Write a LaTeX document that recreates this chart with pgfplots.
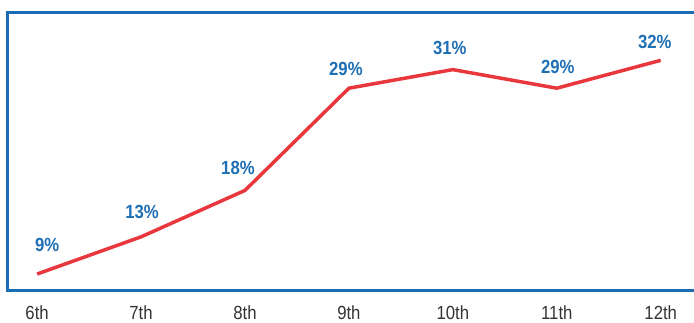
\documentclass[border=0pt]{standalone}
\usepackage{fontspec}
\setmainfont{Liberation Sans}[FakeStretch=0.88]
\usepackage{pgfplots}
\usepackage{pgfplotstable}
\pgfplotsset{compat=1.18}
\definecolor{frameblue}{HTML}{1A6DB5}
\definecolor{labelblue}{HTML}{1F6FB5}
\definecolor{linered}{HTML}{E8383D}
\definecolor{tickgray}{HTML}{333333}
\pgfplotstableread{
x y dx dy
0 9 10 23
1 13 1 18
2 18 -7 16
3 29 -3 13
4 31 -3 15
5 29 1 15
6 32 -6 12
}\datatable
\begin{document}
\fontsize{19pt}{22pt}\selectfont
\begin{tikzpicture}
\begin{axis}[
  at={(8pt,32pt)}, anchor=south west,
  scale only axis, width=686pt, height=278pt,
  xmin=-0.28, xmax=6.32, ymin=7.28, ymax=37.2,
  axis line style={draw=none},
  /pgf/number format/assume math mode=true,
  xtick={0,...,6},
  xticklabels={6th,7th,8th,9th,10th,11th,12th},
  xticklabel style={anchor=base, yshift=-29pt, text=tickgray, font=\fontsize{19pt}{22pt}\selectfont},
  major tick length=0pt,
  ytick=\empty,
  clip=false,
]
\addplot[linered, line width=3.5pt, line join=round,
  nodes near coords={\pgfmathprintnumber{\pgfplotspointmeta}\%},
  point meta=\thisrow{y},
  visualization depends on={\thisrow{dx} \as \dx},
  visualization depends on={\thisrow{dy} \as \dy},
  every node near coord/.append style={anchor=base, xshift=\dx pt, yshift=\dy pt,
    font=\fontsize{19pt}{22pt}\selectfont\bfseries, text=labelblue},
] table[x=x, y=y] {\datatable};
\draw[frameblue, line width=3pt] (rel axis cs:1,1) -- (rel axis cs:0,1) -- (rel axis cs:0,0) -- (rel axis cs:1,0);
\end{axis}
\pgfresetboundingbox
\useasboundingbox (0,0) rectangle (694pt,322pt);
\end{tikzpicture}
\end{document}
